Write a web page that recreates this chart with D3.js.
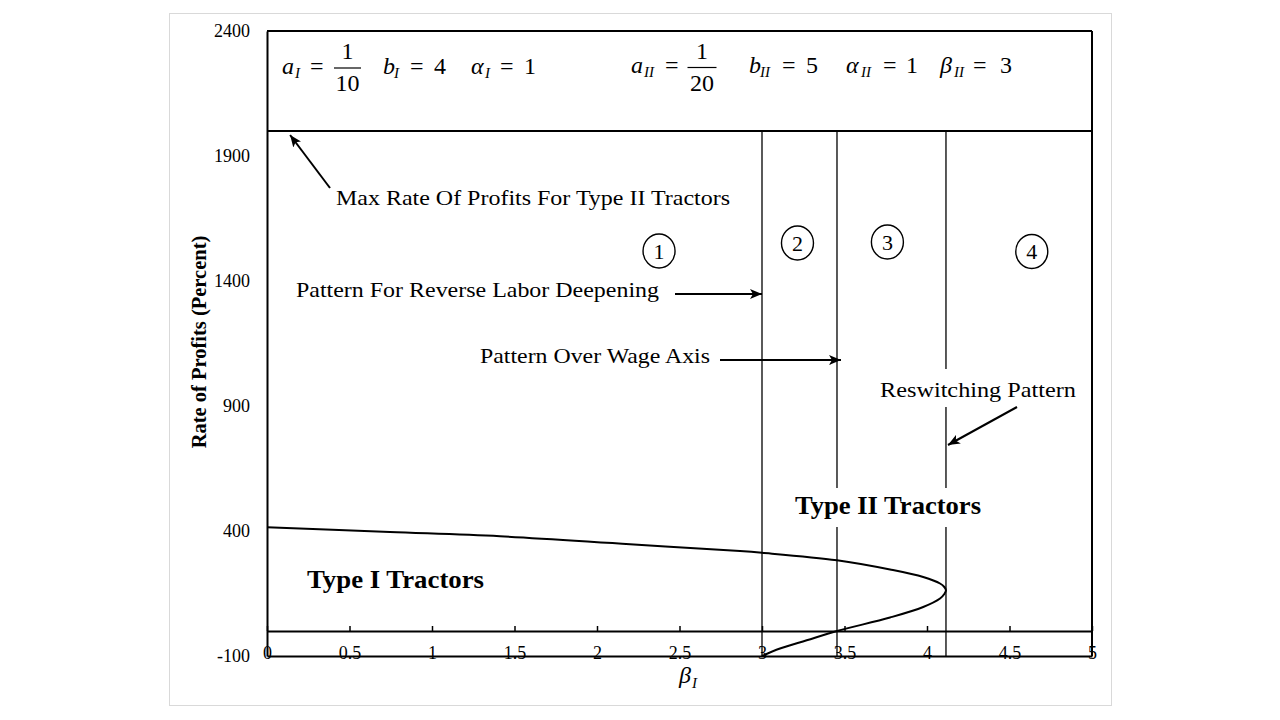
<!DOCTYPE html>
<html>
<head>
<meta charset="utf-8">
<script src="https://cdn.jsdelivr.net/npm/d3@7"></script>
<style>
  html, body { margin: 0; padding: 0; background: #ffffff; }
  svg { display: block; }
  text { font-family: "Liberation Serif", "Times New Roman", serif; fill: #000; }
</style>
</head>
<body>
<svg id="chart" width="1280" height="720"></svg>
<script>
// ---------------- data ----------------
const xTicks = [0, 0.5, 1, 1.5, 2, 2.5, 3, 3.5, 4, 4.5, 5];
const xTickLabels = ["0", "0.5", "1", "1.5", "2", "2.5", "3", "3.5", "4", "4.5", "5"];
const yTicks = [-100, 400, 900, 1400, 1900, 2400];
const yTickLabels = ["-100", "400", "900", "1400", "1900", "2400"];

// Type I tractor boundary curve (beta_I vs rate of profits)
const curveBeta = [0, 0.745, 1.412, 2.2, 2.867, 3.0, 3.4545, 3.776, 3.977, 4.079, 4.105, 4.115, 4.105, 4.079, 3.977, 3.776, 3.4545, 3.271, 3.109, 3.0];
const curveRate = [415, 396, 379, 347, 320, 313, 283, 246, 216, 190, 176, 163, 148, 130, 96, 54, 0, -37, -70, -100];

// vertical region boundaries on beta_I
const boundaryBeta = [3.0, 3.4545, 4.115];
const maxRateTypeII = 2000;   // horizontal line
const zeroRate = 0;           // horizontal axis line

const regionLabels = ["1", "2", "3", "4"];
const regionBeta = [2.376, 3.215, 3.76, 4.635];
const regionRate = [1520, 1552, 1556, 1518];

// ---------------- layout ----------------
const svg = d3.select("#chart");
const x = d3.scaleLinear().domain([0, 5]).range([267, 1092]);
const y = d3.scaleLinear().domain([-100, 2400]).range([656, 31]);

// outer slide frame
svg.append("rect")
  .attr("x", 169.5).attr("y", 13.5).attr("width", 942).attr("height", 692)
  .attr("fill", "none").attr("stroke", "#d9d9d9").attr("stroke-width", 1);

// arrow marker
svg.append("defs").append("marker")
  .attr("id", "arrow")
  .attr("viewBox", "0 0 12 10")
  .attr("refX", 12).attr("refY", 5)
  .attr("markerWidth", 12).attr("markerHeight", 10)
  .attr("markerUnits", "userSpaceOnUse")
  .attr("orient", "auto")
  .append("path").attr("d", "M0,0 L12,5 L0,10 L3,5 Z").attr("fill", "#000");

const g = svg.append("g");

// vertical boundary lines
g.selectAll("line.vb").data(boundaryBeta).enter().append("line")
  .attr("class", "vb")
  .attr("x1", d => x(d)).attr("x2", d => x(d))
  .attr("y1", y(maxRateTypeII)).attr("y2", y(-100))
  .attr("stroke", "#000").attr("stroke-width", 1.3);

// left axis
const yAxis = d3.axisLeft(y).tickValues(yTicks).tickSize(0).tickPadding(17)
  .tickFormat((d, i) => yTickLabels[i]);
const ya = g.append("g").attr("transform", `translate(${x(0)},0)`).call(yAxis);
ya.select(".domain").attr("stroke-width", 2);
ya.selectAll("text").attr("font-size", 18).attr("font-family", "Liberation Serif");

// bottom axis (labels straddle the bottom line)
const xAxis = d3.axisBottom(x).tickValues(xTicks).tickSize(0)
  .tickFormat((d, i) => xTickLabels[i]);
const xa = g.append("g").attr("transform", `translate(0,${y(-100)})`).call(xAxis);
xa.select(".domain").attr("stroke-width", 2);
xa.selectAll("text").attr("font-size", 18).attr("font-family", "Liberation Serif")
  .attr("dy", null).attr("y", 3);

// zero-rate axis with inside ticks
const zAxis = d3.axisTop(x).tickValues(xTicks).tickSize(5).tickSizeOuter(0).tickFormat("");
const za = g.append("g").attr("transform", `translate(0,${y(zeroRate)})`).call(zAxis);
za.select(".domain").attr("stroke-width", 2);
za.selectAll(".tick line").attr("stroke-width", 1.5);

// top, right box lines and max-rate line
g.append("line").attr("x1", x(0)).attr("x2", x(5)).attr("y1", y(2400)).attr("y2", y(2400))
  .attr("stroke", "#000").attr("stroke-width", 2);
g.append("line").attr("x1", x(5)).attr("x2", x(5)).attr("y1", y(2400)).attr("y2", y(-100))
  .attr("stroke", "#000").attr("stroke-width", 2);
g.append("line").attr("x1", x(0)).attr("x2", x(5)).attr("y1", y(maxRateTypeII)).attr("y2", y(maxRateTypeII))
  .attr("stroke", "#000").attr("stroke-width", 2);

// curve
const curveData = curveBeta.map((b, i) => [b, curveRate[i]]);
g.append("path").datum(curveData)
  .attr("d", d3.line().x(d => x(d[0])).y(d => y(d[1])).curve(d3.curveCatmullRom.alpha(0.5)))
  .attr("fill", "none").attr("stroke", "#000").attr("stroke-width", 2);

// white boxes behind labels (they hide parts of boundary lines)
g.append("rect").attr("x", 872).attr("y", 369).attr("width", 210).attr("height", 38).attr("fill", "#fff");
g.append("rect").attr("x", 788).attr("y", 488).attr("width", 200).attr("height", 39).attr("fill", "#fff");

// circled region numbers
const rg = g.selectAll("g.region").data(regionLabels).enter().append("g")
  .attr("class", "region")
  .attr("transform", (d, i) => `translate(${x(regionBeta[i])},${y(regionRate[i])})`);
rg.append("ellipse").attr("rx", 16).attr("ry", 17)
  .attr("fill", "none").attr("stroke", "#000").attr("stroke-width", 1.4);
rg.append("text").text(d => d).attr("text-anchor", "middle").attr("y", 7.5).attr("font-size", 22);

// annotation text
function label(txt, x0, yb, size, width, bold) {
  const t = svg.append("text").attr("x", x0).attr("y", yb).attr("font-size", size).text(txt);
  if (bold) t.attr("font-weight", "bold");
  if (width) t.attr("textLength", width).attr("lengthAdjust", "spacingAndGlyphs");
  return t;
}
label("Max Rate Of Profits For Type II Tractors", 336, 205, 22, 394);
label("Pattern For Reverse Labor Deepening", 296, 297, 22, 363);
label("Pattern Over Wage Axis", 480, 363, 22, 230);
label("Reswitching Pattern", 880, 397, 22, 196);
label("Type I Tractors", 307, 588, 26, 177, true);
label("Type II Tractors", 795, 514, 26, 186, true);

// arrows
function arrow(x1, y1, x2, y2) {
  svg.append("line").attr("x1", x1).attr("y1", y1).attr("x2", x2).attr("y2", y2)
    .attr("stroke", "#000").attr("stroke-width", 2).attr("marker-end", "url(#arrow)");
}
arrow(330, 188, x(0.14), y(maxRateTypeII) + 4);
arrow(675, 294, x(boundaryBeta[0]), 294);
arrow(720, 360, x(boundaryBeta[1]) + 4, 360);
arrow(1017, 407, x(boundaryBeta[2]) + 2, 445);

// y-axis title
svg.append("text")
  .attr("transform", "translate(206,342) rotate(-90)")
  .attr("text-anchor", "middle").attr("font-size", 20.5).attr("font-weight", "bold")
  .text("Rate of Profits (Percent)");

// x-axis title: beta_I
const xt = svg.append("text").attr("x", 679).attr("y", 683).attr("font-size", 24).attr("font-style", "italic");
xt.append("tspan").text("β");
xt.append("tspan").attr("font-size", 15).attr("dy", 5).attr("dx", 1).text("I");

// parameter formulas
const mathSize = 24, subSize = 15;
function sym(txt, x0, yb, italic, size) {
  const t = svg.append("text").attr("x", x0).attr("y", yb).attr("font-size", size || mathSize).text(txt);
  if (italic) t.attr("font-style", "italic");
  return t;
}
function frac(num, den, cx, barY, w) {
  svg.append("line").attr("x1", cx - w / 2).attr("x2", cx + w / 2).attr("y1", barY).attr("y2", barY)
    .attr("stroke", "#000").attr("stroke-width", 1.2);
  svg.append("text").attr("x", cx).attr("y", barY - 9).attr("font-size", mathSize).attr("text-anchor", "middle").text(num);
  svg.append("text").attr("x", cx).attr("y", barY + 23).attr("font-size", mathSize).attr("text-anchor", "middle").text(den);
}
// left group
sym("a", 282, 74, true); sym("I", 295, 78, true, subSize);
sym("=", 310, 74); frac("1", "10", 347.5, 68, 27);
sym("b", 383, 74, true); sym("I", 394, 78, true, subSize);
sym("=", 410, 74); sym("4", 434, 74);
sym("α", 471, 74, true); sym("I", 485, 78, true, subSize);
sym("=", 500, 74); sym("1", 524, 74);
// right group
sym("a", 631, 73, true); sym("II", 644, 77, true, subSize);
sym("=", 665, 73); frac("1", "20", 702, 67.5, 29);
sym("b", 749, 73, true); sym("II", 760, 77, true, subSize);
sym("=", 782, 73); sym("5", 806, 73);
sym("α", 846, 73, true); sym("II", 861, 77, true, subSize);
sym("=", 883, 73); sym("1", 906, 73);
sym("β", 940, 73, true); sym("II", 954, 77, true, subSize);
sym("=", 973, 73); sym("3", 1000, 73);
</script>
</body>
</html>
